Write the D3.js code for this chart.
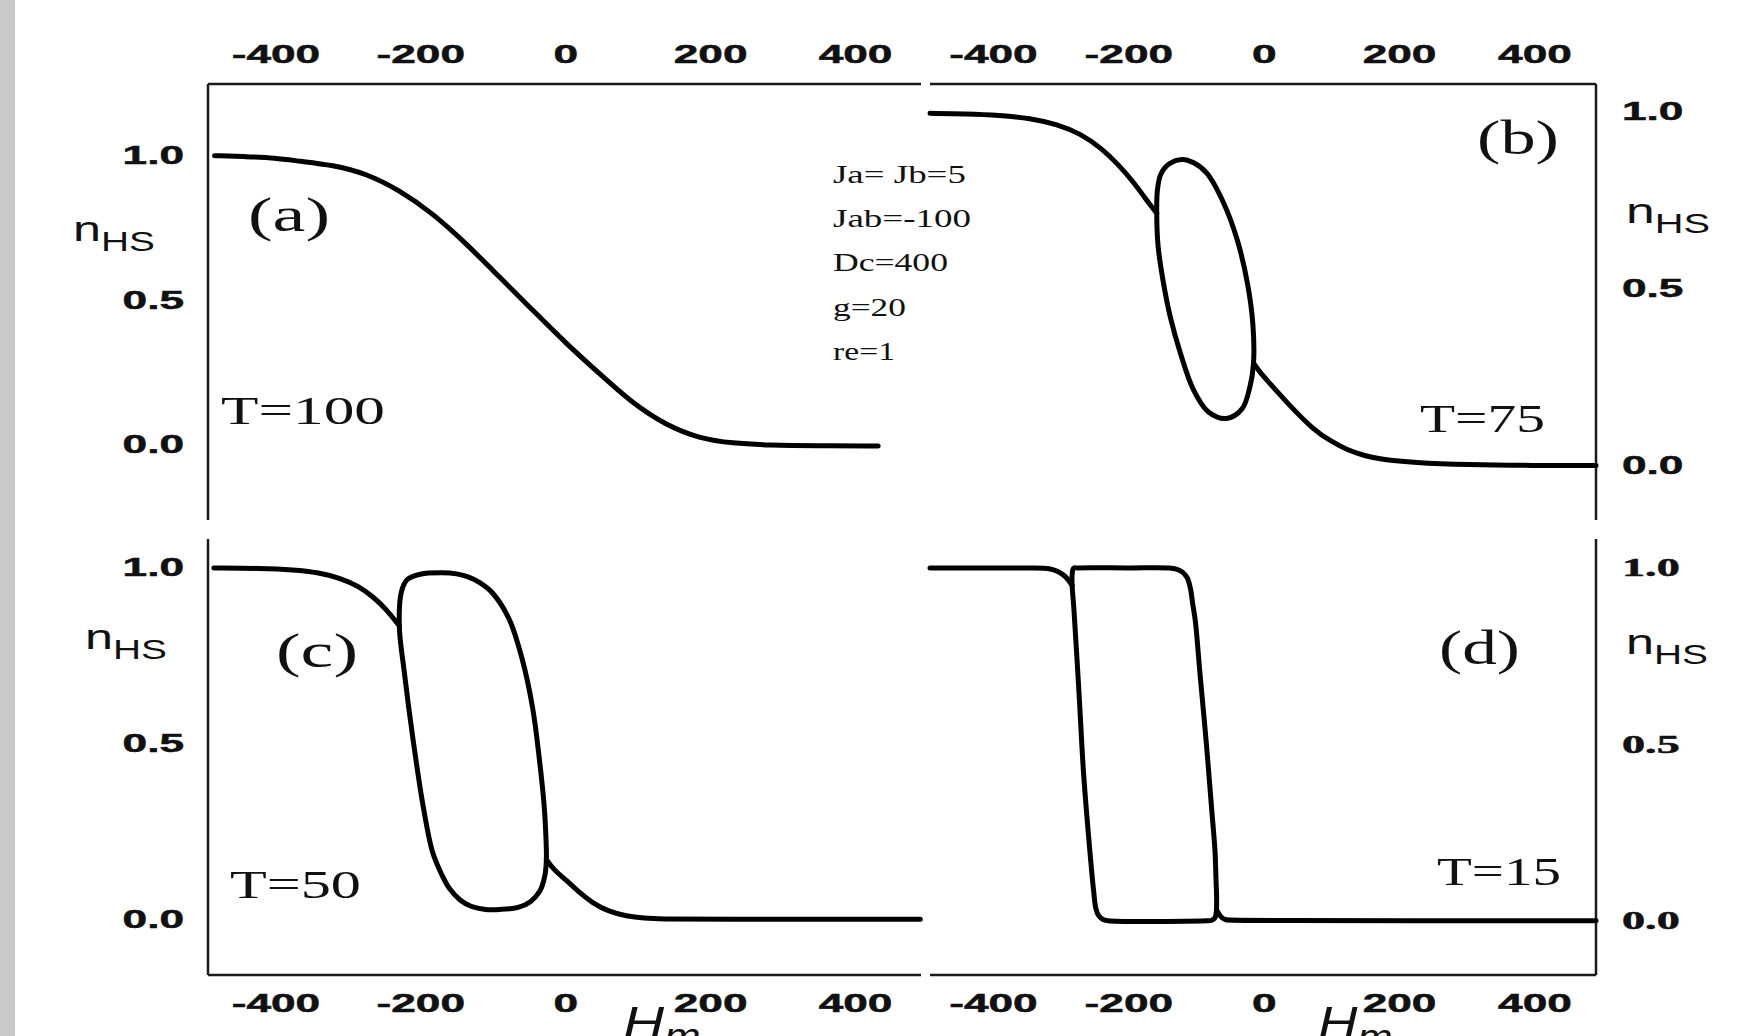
<!DOCTYPE html>
<html>
<head>
<meta charset="utf-8">
<script src="https://cdn.jsdelivr.net/npm/d3@7"></script>
<style>
  body { margin: 0; background: #fff; }
  svg { display: block; }
  .frame { stroke: #1a1a1a; stroke-width: 2.5; fill: none; }
  .curve { stroke: #000; stroke-width: 5; fill: none; stroke-linejoin: round; stroke-linecap: round; }
  .tick text { font-family: "Liberation Sans", Arial, sans-serif; font-weight: bold; font-size: 26px; fill: #111; stroke: #111; stroke-width: 0.5; }
  .tick text.serif-tick { font-family: "Liberation Serif", "Times New Roman", serif; font-size: 25px; }
  .sans { font-family: "Liberation Sans", Arial, sans-serif; fill: #111; }
  .serif { font-family: "Liberation Serif", "Times New Roman", serif; fill: #111; }
</style>
</head>
<body>
<div id="chart"></div>
<script>
'use strict';

// axis ticks and ranges
var hTicks = [-400, -200, 0, 200, 400],
    nTicks = [0, 0.5, 1],
    hDomain = [-493, 491],
    nDomainA = [-0.262, 1.246],
    nDomainB = [-0.154, 1.078],
    nDomainC = [-0.158, 1.079],
    nDomainD = [-0.154, 1.082];

var panelNames = ['(a)', '(b)', '(c)', '(d)'],
    temperatures = ['T=100', 'T=75', 'T=50', 'T=15'],
    params = ['Ja= Jb=5', 'Jab=-100', 'Dc=400', 'g=20', 're=1'];

// (a) T=100 : single smooth branch [Hm, nHS]
var curveA = [[-484, 0.998], [-440, 0.995], [-400, 0.99], [-367, 0.979], [-321, 0.966], [-275, 0.937],
  [-229, 0.879], [-183, 0.799], [-137, 0.695], [-91, 0.579], [-45, 0.464], [1, 0.349], [47, 0.245],
  [93, 0.141], [139, 0.066], [185, 0.02], [231, 0.003], [280, -0.003], [350, -0.005], [432, -0.006]];

// (b) T=75 : left tail, closed loop, right tail
var curveBLeft = [[-493, 0.995], [-440, 0.994], [-390, 0.99], [-345, 0.981], [-305, 0.964], [-270, 0.937],
  [-240, 0.897], [-215, 0.851], [-192, 0.8], [-175, 0.755], [-158, 0.713]];
var curveBLoop = [[-120, 0.865], [-140, 0.852], [-152, 0.823], [-157, 0.778], [-158, 0.713], [-156, 0.62],
  [-148, 0.515], [-138, 0.42], [-123, 0.317], [-104, 0.215], [-82, 0.152], [-55, 0.133], [-32, 0.16],
  [-20, 0.225], [-15, 0.289], [-16, 0.4], [-24, 0.515], [-39, 0.637], [-59, 0.741], [-84, 0.826], [-104, 0.856]];
var curveBRight = [[-15, 0.289], [-5, 0.262], [5, 0.241], [35, 0.176], [74, 0.1], [100, 0.068], [123, 0.044],
  [150, 0.027], [172, 0.018], [222, 0.008], [300, 0.002], [400, 0.0], [491, 0.0]];

// (c) T=50
var curveCLeft = [[-485, 0.997], [-420, 0.996], [-375, 0.992], [-340, 0.984], [-310, 0.968], [-285, 0.945],
  [-265, 0.915], [-248, 0.882], [-229, 0.833]];
var curveCLoop = [[-170, 0.983], [-200, 0.979], [-218, 0.964], [-226, 0.93], [-229, 0.833], [-222, 0.7],
  [-210, 0.51], [-196, 0.32], [-183, 0.19], [-170, 0.125], [-160, 0.088], [-145, 0.055], [-130, 0.037],
  [-110, 0.028], [-90, 0.028], [-65, 0.034], [-48, 0.05], [-35, 0.08], [-28, 0.125], [-26, 0.17],
  [-27, 0.25], [-29, 0.32], [-36, 0.46], [-45, 0.6], [-59, 0.735], [-77, 0.85], [-100, 0.925],
  [-118, 0.955], [-135, 0.972], [-150, 0.98]];
var curveCRight = [[-26, 0.17], [-20, 0.152], [-10, 0.13], [1, 0.112], [20, 0.075], [38, 0.046], [60, 0.022],
  [84, 0.009], [110, 0.003], [130, 0.001], [200, 0.0], [490, 0.0]];

// (d) T=15
var curveDLeft = [[-493, 1.0], [-400, 1.0], [-330, 1.0], [-315, 0.998], [-303, 0.99], [-294, 0.978],
  [-288, 0.965], [-283, 0.95]];
var curveDLoop = [[-281, 0.999], [-275, 1.0], [-200, 1.0], [-140, 1.0], [-128, 0.996], [-120, 0.988],
  [-113, 0.972], [-108, 0.94], [-105, 0.9], [-101, 0.85], [-94, 0.698], [-85, 0.509], [-77, 0.32],
  [-72, 0.2], [-70.5, 0.12], [-69.5, 0.06], [-70, 0.025], [-72, 0.008], [-77, 0.001], [-85, 0.0],
  [-230, 0.0], [-238, 0.004], [-244, 0.015], [-248, 0.035], [-251, 0.08], [-256, 0.18], [-266, 0.415],
  [-273, 0.651], [-280.5, 0.887], [-283, 0.95], [-283, 0.98]];
var curveDRight = [[-69.5, 0.03], [-66, 0.018], [-62, 0.008], [-56, 0.002], [-48, 0.0], [491, 0.0]];

var W = 1750, H = 1036;

var svg = d3.select('#chart').append('svg').attr('width', W).attr('height', H);

// grey strip on the left border of the scan
svg.append('rect').attr('x', 0).attr('y', 0).attr('width', 15).attr('height', H).attr('fill', '#c9c9c9');

// panel layout
var panels = [
  {box: [208, 921, 84, 520], nDomain: nDomainA, hSide: 'top', nSide: 'left',
    tails: [curveA], loops: [],
    name: [248, 231, 82], temp: [221, 424, 164], nhs: [73, 241, 82]},
  {box: [930, 1596, 84, 520], nDomain: nDomainB, hSide: 'top', nSide: 'right',
    tails: [curveBLeft, curveBRight], loops: [curveBLoop],
    name: [1477, 154, 82], temp: [1420, 432, 125], nhs: [1626, 223, 84]},
  {box: [208, 921, 539, 975], nDomain: nDomainC, hSide: 'bottom', nSide: 'left',
    tails: [curveCLeft, curveCRight], loops: [curveCLoop],
    name: [276, 667, 82], temp: [230, 898, 131], nhs: [85, 649, 82], hm: [623, 50]},
  {box: [930, 1596, 539, 975], nDomain: nDomainD, hSide: 'bottom', nSide: 'right', serifTicks: true,
    tails: [curveDLeft, curveDRight], loops: [curveDLoop],
    name: [1439, 664, 81], temp: [1437, 885, 124], nhs: [1626, 654, 82], hm: [1318, 48]}
];

// squeeze/stretch a text horizontally so that it covers a given width
function fitText(t, x, y, width) {
  var w = t.node().getBBox().width;
  t.attr('transform', 'translate(' + x + ',' + y + ') scale(' + (width / w) + ',1)');
  return t;
}

panels.forEach(function (p, i) {
  var b = p.box,
      x = d3.scaleLinear().domain(hDomain).range([b[0], b[1]]),
      y = d3.scaleLinear().domain(p.nDomain).range([b[3], b[2]]),
      g = svg.append('g'),
      hy = p.hSide === 'top' ? b[2] : b[3],
      nx = p.nSide === 'left' ? b[0] : b[1];

  // two sides of the frame only
  g.append('line').attr('class', 'frame').attr('x1', b[0]).attr('x2', b[1]).attr('y1', hy).attr('y2', hy);
  g.append('line').attr('class', 'frame').attr('x1', nx).attr('x2', nx).attr('y1', b[2]).attr('y2', b[3]);

  // H axis
  var hAxis = (p.hSide === 'top' ? d3.axisTop(x) : d3.axisBottom(x))
    .tickValues(hTicks).tickSize(0).tickPadding(p.hSide === 'top' ? 21 : 19)
    .tickFormat(function (d) { return String(d); });
  g.append('g').attr('transform', 'translate(0,' + hy + ')').call(hAxis)
    .call(function (a) { a.select('.domain').remove(); })
    .selectAll('.tick text').attr('transform', 'scale(1.7,1)');

  // nHS axis
  var stretch = p.serifTicks ? 1.85 : 1.7,
      nAxis = (p.nSide === 'left' ? d3.axisLeft(y) : d3.axisRight(y))
        .tickValues(nTicks).tickSize(0).tickPadding((p.nSide === 'left' ? 24 : 26) / stretch)
        .tickFormat(d3.format('.1f'));
  g.append('g').attr('transform', 'translate(' + nx + ',0)').call(nAxis)
    .call(function (a) { a.select('.domain').remove(); })
    .selectAll('.tick text')
    .classed('serif-tick', !!p.serifTicks)
    .attr('transform', 'scale(' + stretch + ',1)');

  // curves: open branches smoothed, loops through their points
  var line = d3.line().x(function (d) { return x(d[0]); }).y(function (d) { return y(d[1]); })
    .curve(d3.curveBasis);
  var loop = d3.line().x(function (d) { return x(d[0]); }).y(function (d) { return y(d[1]); })
    .curve(d3.curveCatmullRomClosed.alpha(0.5));

  g.selectAll('path.tail').data(p.tails).enter().append('path')
    .attr('class', 'curve tail').attr('d', line);
  g.selectAll('path.loop').data(p.loops).enter().append('path')
    .attr('class', 'curve loop').attr('d', loop);

  // panel letter and temperature
  fitText(g.append('text').attr('class', 'serif').style('font-size', '48px').text(panelNames[i]),
    p.name[0], p.name[1], p.name[2]);
  fitText(g.append('text').attr('class', 'serif').style('font-size', '41px').text(temperatures[i]),
    p.temp[0], p.temp[1], p.temp[2]);

  // n_HS axis title
  var nt = g.append('text').attr('class', 'sans');
  nt.append('tspan').style('font-size', '35px').text('n');
  nt.append('tspan').style('font-size', '27px').attr('dy', 10).text('HS');
  fitText(nt, p.nhs[0], p.nhs[1], p.nhs[2]);

  // H_m title, cut by the bottom edge
  if (p.hm) {
    var ht = g.append('text').attr('class', 'sans').style('font-style', 'italic');
    ht.append('tspan').style('font-size', '47px').text('H');
    ht.append('tspan').style('font-size', '36px').attr('dy', 10).text('m');
    fitText(ht, p.hm[0], 1039, p.hm[1] * 1.55);
  }
});

// model parameters
var paramY = [183, 227, 271, 316, 360],
    paramW = [133, 138, 115, 73, 62];
params.forEach(function (s, i) {
  fitText(svg.append('text').attr('class', 'serif').style('font-size', '25px').text(s),
    833, paramY[i], paramW[i]);
});
</script>
</body>
</html>
